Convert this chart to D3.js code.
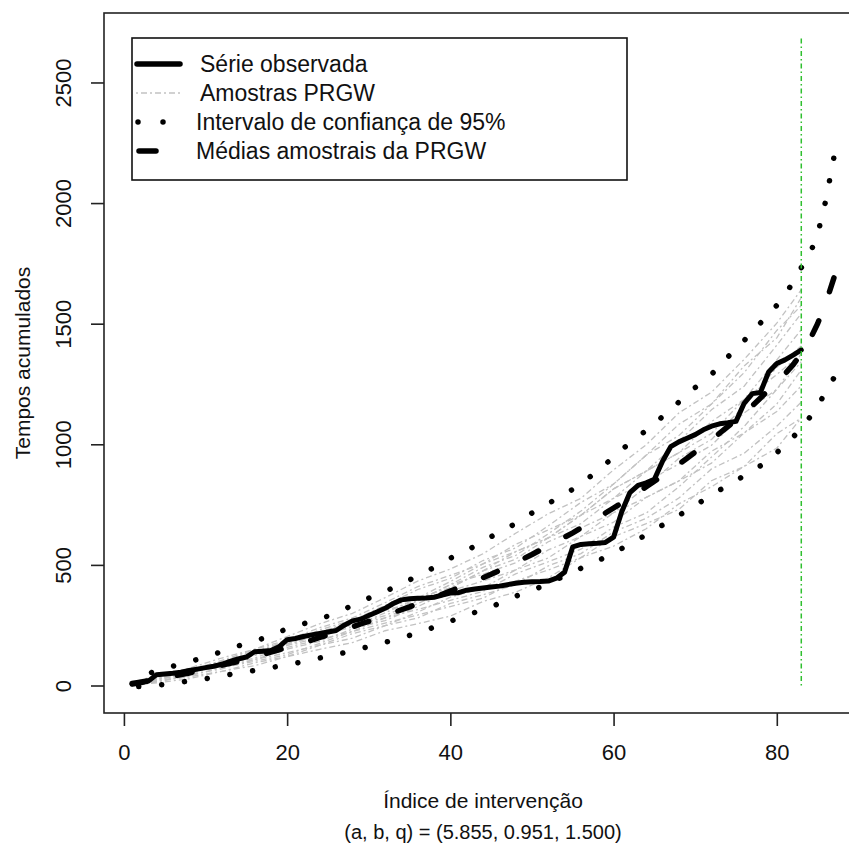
<!DOCTYPE html>
<html><head><meta charset="utf-8">
<script src="https://cdn.jsdelivr.net/npm/d3@7"></script>
<style>body{margin:0;background:#fff} text{font-family:"Liberation Sans",Arial,sans-serif;fill:#111}</style>
</head><body><svg id="c" width="849" height="843"></svg>
<script>
// ---- data ----
const observed = [5,10,18,45,48,51,55,62,68,74,80,88,100,110,118,140,142,145,160,190,195,203,210,216,222,228,250,268,275,290,305,320,340,355,360,362,363,366,375,383,385,395,400,404,408,412,418,424,428,430,431,433,445,470,575,585,588,590,593,615,720,800,830,840,855,930,990,1010,1025,1040,1060,1075,1085,1089,1095,1170,1210,1215,1300,1335,1350,1370,1391];
const means = [8,14,20,26,32,38,45,52,60,68,76,84,92,100,110,119,128,138,148,158,168,178,188,199,210,221,232,243,255,266,278,290,302,314,326,339,352,365,378,392,405,419,433,447,461,477,493,509,526,543,561,579,597,615,633,653,673,694,715,736,757,779,801,824,847,870,894,918,942,968,994,1020,1046,1073,1101,1130,1160,1192,1225,1258,1292,1330,1375,1430,1500,1585,1690];
const ciUpper = [30,40,50,60,70,80,90,99,108,118,129,141,152,164,175,185,195,208,222,235,246,256,266,276,288,303,317,331,347,362,376,390,405,421,438,454,470,490,509,528,543,559,579,598,617,635,652,673,694,715,735,755,773,791,814,838,862,890,918,946,978,1005,1030,1058,1085,1115,1145,1175,1205,1235,1262,1290,1325,1362,1396,1430,1468,1503,1538,1576,1615,1675,1732,1785,1870,2010,2190];
const ciLower = [-6,-4,-2,1,5,9,14,19,23,28,34,40,46,51,57,62,68,74,80,85,92,99,107,114,121,128,136,145,153,161,170,179,188,198,208,219,230,242,256,267,278,290,303,313,325,341,358,370,383,395,408,422,438,455,471,486,500,516,532,549,568,587,606,625,645,665,685,705,726,747,768,789,810,830,850,869,889,911,934,965,998,1030,1066,1110,1155,1220,1275];
const sampleIndex = [1,4,8,12,16,20,24,28,32,36,40,44,48,52,56,60,64,68,72,76,80,83];
const sample01 = [12,38,72,114,150,203,256,299,364,433,483,546,631,712,776,894,998,1130,1216,1352,1502,1641];
const sample02 = [3,20,36,59,82,120,150,178,227,256,288,348,387,446,530,578,650,753,824,908,1044,1109];
const sample03 = [10,26,60,89,138,173,231,271,332,398,444,518,570,662,759,835,955,1036,1167,1297,1472,1575];
const sample04 = [6,17,44,69,107,136,167,215,248,280,340,376,418,496,547,637,693,777,898,963,1075,1175];
const sample05 = [13,41,64,94,125,173,207,243,301,363,405,475,555,612,706,815,889,1012,1143,1241,1411,1542];
const sample06 = [4,23,52,79,107,151,183,234,269,327,392,433,479,529,618,677,780,848,922,1047,1167,1308];
const sample07 = [8,32,56,99,144,181,215,271,311,351,418,461,509,596,653,716,824,942,1020,1158,1319,1408];
const sample08 = [1,11,28,59,94,120,167,196,248,304,366,404,479,562,618,716,780,848,971,1047,1136,1242];
const sample09 = [10,35,68,99,131,188,240,280,343,410,457,504,585,645,706,815,889,965,1094,1186,1350,1475];
const sample10 = [6,26,48,84,125,158,191,224,280,315,353,390,463,513,565,657,715,824,947,1074,1228,1342];
const sample11 = [12,29,60,89,131,166,199,252,280,339,405,475,524,612,706,776,889,965,1045,1186,1289,1375];
const sample12 = [4,14,40,74,100,128,175,224,259,292,327,362,433,479,530,617,671,730,849,908,984,1109];
const sample13 = [15,35,60,104,150,188,223,262,322,363,431,504,555,612,671,776,846,918,996,1130,1228,1375];
const sample14 = [8,23,56,84,113,166,215,252,290,351,418,490,539,629,723,835,955,1083,1167,1325,1441,1608];
const samples = [sample01,sample02,sample03,sample04,sample05,sample06,sample07,sample08,sample09,sample10,sample11,sample12,sample13,sample14];
const cutLine = {index: 83, from: 0, to: 2690};
const xTicks = [0,20,40,60,80];
const yTicks = [0,500,1000,1500,2000,2500];
const legendLabels = ["Série observada","Amostras PRGW","Intervalo de confiança de 95%","Médias amostrais da PRGW"];
const xTitle = "Índice de intervenção";
const subTitle = "(a, b, q) = (5.855, 0.951, 1.500)";
const yTitle = "Tempos acumulados";

// ---- layout ----
const L = 104, R = 862, T = 13, B = 713;
const FONT = '"Liberation Sans",Arial,sans-serif';
const svg = d3.select("#c");
const x = d3.scaleLinear().domain([-2.44, 90.44]).range([L, R]);
const y = d3.scaleLinear().domain([-114, 2788]).range([B, T]);
const line = d3.line().x(d => x(d[0])).y(d => y(d[1]));
const idx = arr => arr.map((v, i) => [i + 1, v]);

const plot = svg.append("g");
// samples
samples.forEach(s => {
  plot.append("path").datum(s.map((v, i) => [sampleIndex[i], v])).attr("d", line)
    .attr("fill", "none").attr("stroke", "#c2c2c2").attr("stroke-width", 1.3)
    .attr("stroke-dasharray", "2,3,6,3");
});
// CI dotted (pattern phased so that a dot falls just before the end of each curve)
[ciUpper, ciLower].forEach(s => {
  const p = plot.append("path").datum(idx(s)).attr("d", line).attr("fill", "none")
    .attr("stroke", "#000").attr("stroke-width", 5.5).attr("stroke-linecap", "round")
    .attr("stroke-dasharray", "0.01,22.99");
  const len = p.node().getTotalLength() - 1;
  p.attr("stroke-dashoffset", (23 - (len % 23)) % 23);
});
// observed
plot.append("path").datum(idx(observed)).attr("d", line).attr("fill", "none")
  .attr("stroke", "#000").attr("stroke-width", 5).attr("stroke-linejoin", "round").attr("stroke-linecap", "round");
// means dashed
plot.append("path").datum(idx(means)).attr("d", line).attr("fill", "none")
  .attr("stroke", "#000").attr("stroke-width", 5.5).attr("stroke-linecap", "round")
  .attr("stroke-dasharray", "15,31");
// green vertical line
plot.append("line").attr("x1", x(cutLine.index)).attr("x2", x(cutLine.index))
  .attr("y1", y(cutLine.from)).attr("y2", y(cutLine.to))
  .attr("stroke", "#2fc02f").attr("stroke-width", 1.5).attr("stroke-dasharray", "1.5,3,5,3");

// box
svg.append("rect").attr("x", L).attr("y", T).attr("width", R - L).attr("height", B - T)
  .attr("fill", "none").attr("stroke", "#222").attr("stroke-width", 1.6);

// axes
const gx = svg.append("g").attr("transform", `translate(0,${B})`)
  .call(d3.axisBottom(x).tickValues(xTicks).tickSize(13).tickPadding(18).tickFormat(d3.format("d")));
gx.select(".domain").remove();
gx.selectAll("line").attr("stroke", "#222").attr("stroke-width", 1.6);
gx.selectAll("text").attr("font-size", 22).attr("fill", "#111").style("font-family", FONT);

const gy = svg.append("g").attr("transform", `translate(${L},0)`)
  .call(d3.axisLeft(y).tickValues(yTicks).tickSize(13).tickFormat(d3.format("d")));
gy.select(".domain").remove();
gy.selectAll("line").attr("stroke", "#222").attr("stroke-width", 1.6);
gy.selectAll("text").attr("x", null).attr("dy", null)
  .attr("transform", `translate(${71 - L},0) rotate(-90)`).attr("text-anchor", "middle")
  .attr("font-size", 22).attr("fill", "#111").style("font-family", FONT);

// titles
svg.append("text").attr("x", (L + R) / 2).attr("y", 808).attr("text-anchor", "middle")
  .attr("font-size", 21).text(xTitle);
svg.append("text").attr("x", (L + R) / 2).attr("y", 839).attr("text-anchor", "middle")
  .attr("font-size", 20).text(subTitle);
svg.append("text").attr("transform", `translate(30,${(T + B) / 2}) rotate(-90)`).attr("text-anchor", "middle")
  .attr("font-size", 21).text(yTitle);

// legend
const lg = svg.append("g");
lg.append("rect").attr("x", 132).attr("y", 38).attr("width", 495).attr("height", 142)
  .attr("fill", "#fff").attr("stroke", "#111").attr("stroke-width", 1.6);
const rowY = [64, 93, 122, 151];
lg.append("line").attr("x1", 137).attr("x2", 180).attr("y1", rowY[0]).attr("y2", rowY[0])
  .attr("stroke", "#000").attr("stroke-width", 5.5).attr("stroke-linecap", "round");
lg.append("line").attr("x1", 136).attr("x2", 181).attr("y1", rowY[1]).attr("y2", rowY[1])
  .attr("stroke", "#c2c2c2").attr("stroke-width", 1.3).attr("stroke-dasharray", "2,3,6,3");
lg.append("line").attr("x1", 138).attr("x2", 165).attr("y1", rowY[2]).attr("y2", rowY[2])
  .attr("stroke", "#000").attr("stroke-width", 5.5).attr("stroke-linecap", "round").attr("stroke-dasharray", "0,25");
lg.append("line").attr("x1", 139).attr("x2", 156).attr("y1", rowY[3]).attr("y2", rowY[3])
  .attr("stroke", "#000").attr("stroke-width", 5.5).attr("stroke-linecap", "round");
legendLabels.forEach((t, i) => {
  lg.append("text").attr("x", i < 2 ? 200 : 196).attr("y", rowY[i]).attr("dy", "0.36em")
    .attr("font-size", 23).text(t);
});
</script></body></html>
